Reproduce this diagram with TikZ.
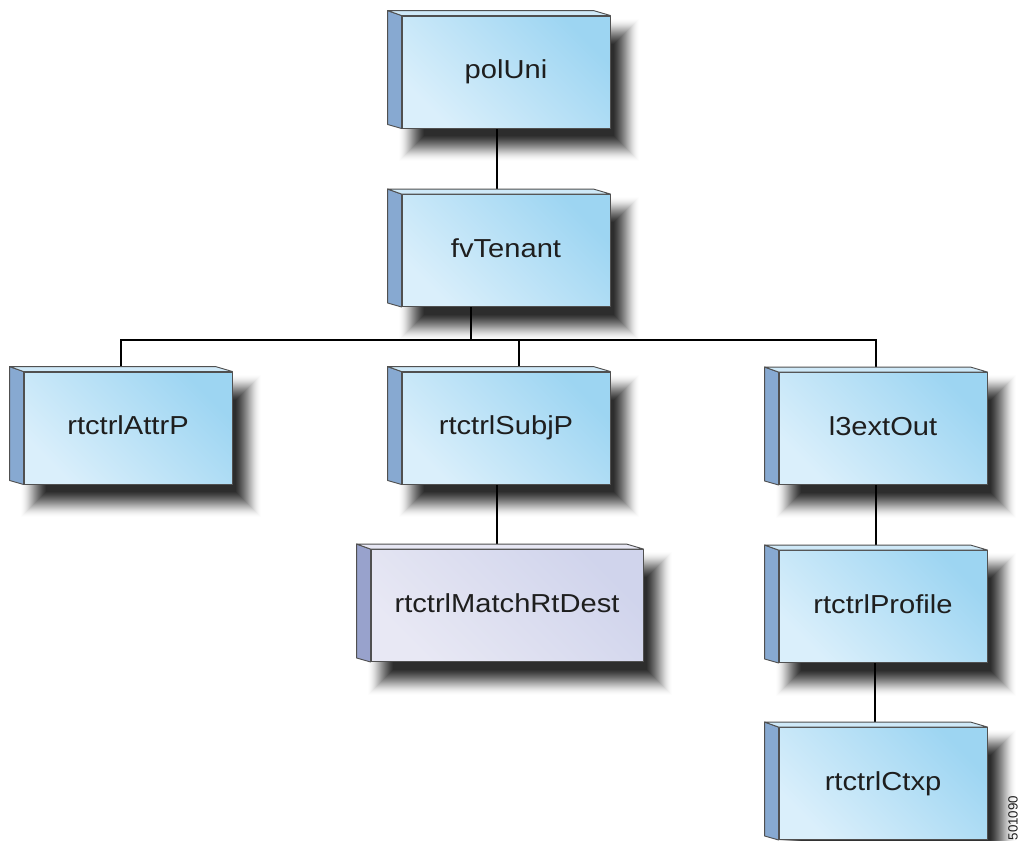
\documentclass[tikz,border=0pt]{standalone}
\usepackage{fontspec}
\newfontfamily\boxfont[FakeStretch=1.12]{Liberation Sans}
\newfontfamily\smallfont{Liberation Sans}
\pgfdeclarelayer{shadowlayer}
\pgfdeclarelayer{connlayer}
\pgfsetlayers{shadowlayer,connlayer,main}
\definecolor{frontL}{HTML}{DAEFFB}
\definecolor{frontR}{HTML}{9DD5F2}
\definecolor{sideB}{HTML}{87A9D1}
\definecolor{topB}{HTML}{CFE9F8}
\definecolor{frontLP}{HTML}{E8E8F4}
\definecolor{frontRP}{HTML}{D0D4EC}
\definecolor{sideP}{HTML}{98A2CC}
\definecolor{topP}{HTML}{E8E8F5}
\definecolor{edge}{HTML}{505050}
\definecolor{txt}{HTML}{1E1E1E}
\tikzset{
  cube/.style={draw=edge, line width=0.7pt, inner sep=0pt,
    minimum width=156pt, minimum height=84pt, text height=14pt, text depth=4pt,
    top color=frontL, bottom color=frontR, shading angle=135,
    font=\boxfont\fontsize{19.5}{22}\selectfont, text=txt},
  cubep/.style={cube, minimum width=204pt, top color=frontLP, bottom color=frontRP, shading angle=135},
  conn/.style={draw=black, line width=1.3pt}
}
\newcommand\cubefaces[3]{%
  \filldraw[fill=#2, draw=edge, line width=0.7pt, line join=round]
    (#1.north west) -- ++(-14,-5) -- ([shift={(-14,-4)}]#1.south west) -- (#1.south west) -- cycle;
  \filldraw[fill=#3, draw=edge, line width=0.7pt, line join=round]
    (#1.north west) -- ++(-14,-5) -- ([shift={(-17,-5)}]#1.north east) -- (#1.north east) -- cycle;
  \begin{pgfonlayer}{shadowlayer}
    \foreach \d [evaluate=\d as \op using {0.008+0.0042*(\d+13)}] in {-13,...,12}{
      \fill[black, opacity=\op]
        ([shift={(10+\d,16+\d)}]#1.north west) rectangle ([shift={(16-\d,20-\d)}]#1.south east);
    }
  \end{pgfonlayer}
}
\begin{document}
\begin{tikzpicture}[x=0.75pt, y=-0.75pt]
\useasboundingbox (0,0) rectangle (1019,840);
\begin{pgfonlayer}{shadowlayer}
  \fill[white] (0,0) rectangle (1019,840);
\end{pgfonlayer}

\node[cube] (polUni) at (506,72) {polUni};
\node[cube] (fvTenant) at (506,250.5) {fvTenant};
\node[cube] (attrP) at (128,428) {rtctrlAttrP};
\node[cube] (subjP) at (506,428) {rtctrlSubjP};
\node[cube] (l3extOut) at (883,428.5) {l3extOut};
\node[cubep] (matchRt) at (507,605.5) {rtctrlMatchRtDest};
\node[cube] (profile) at (883,606.5) {rtctrlProfile};
\node[cube] (ctxp) at (883,783.5) {rtctrlCtxp};

\cubefaces{polUni}{sideB}{topB}
\cubefaces{fvTenant}{sideB}{topB}
\cubefaces{attrP}{sideB}{topB}
\cubefaces{subjP}{sideB}{topB}
\cubefaces{l3extOut}{sideB}{topB}
\cubefaces{matchRt}{sideP}{topP}
\cubefaces{profile}{sideB}{topB}
\cubefaces{ctxp}{sideB}{topB}

\begin{pgfonlayer}{connlayer}
  \draw[conn] ([shift={(-9,0)}]polUni.south) -- ([shift={(-9,0)}]fvTenant.north);
  \draw[conn] ([shift={(-35,0)}]fvTenant.south) -- ++(0,33) coordinate (bus);
  \draw[conn] ([shift={(-7,0)}]attrP.north) |- (bus) -| ([shift={(-7,0)}]l3extOut.north);
  \draw[conn] ([shift={(13,0)}]subjP.north) -- ([shift={(13,0)}]subjP.north |- bus);
  \draw[conn] ([shift={(-9,0)}]subjP.south) -- ([shift={(-10,0)}]matchRt.north);
  \draw[conn] ([shift={(-7,0)}]l3extOut.south) -- ([shift={(-7,0)}]profile.north);
  \draw[conn] ([shift={(-8,0)}]profile.south) -- ([shift={(-8,0)}]ctxp.north);
\end{pgfonlayer}

\node[font=\smallfont\fontsize{10}{12}\selectfont, text=txt, rotate=90, inner sep=0pt] (code) at (1013,818) {501090};
\end{tikzpicture}
\end{document}
